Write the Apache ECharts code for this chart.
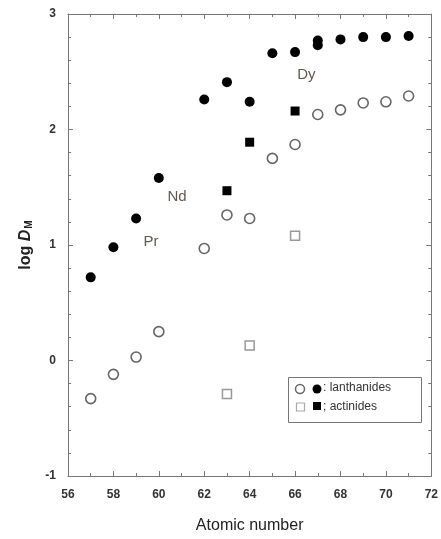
<!DOCTYPE html>
<html><head><meta charset="utf-8">
<script src="https://cdn.jsdelivr.net/npm/echarts@6/dist/echarts.min.js"></script>
<style>html,body{margin:0;padding:0;background:#fff}#c{width:441px;height:539px}</style>
</head><body><div id="c"></div>
<script>
// Filled circles: lanthanides (filled)
const lanFilledX = [57,58,59,60,62,63,64,65,66,67,67,68,69,70,71];
const lanFilledY = [0.72,0.98,1.23,1.58,2.26,2.41,2.24,2.66,2.67,2.73,2.77,2.78,2.80,2.80,2.81];
// Open circles: lanthanides (open)
const lanOpenX = [57,58,59,60,62,63,64,65,66,67,68,69,70,71];
const lanOpenY = [-0.33,-0.12,0.03,0.25,0.97,1.26,1.23,1.75,1.87,2.13,2.17,2.23,2.24,2.29];
// Filled squares: actinides (filled)
const actFilledX = [63,64,66];
const actFilledY = [1.47,1.89,2.16];
// Open squares: actinides (open)
const actOpenX = [63,64,66];
const actOpenY = [-0.29,0.13,1.08];
// Annotations
const noteText = ['Dy','Nd','Pr'];
const noteX = [66.5,60.8,59.65];
const noteY = [2.47,1.42,1.03];
// Axis settings
const xTicks = [56,58,60,62,64,66,68,70,72];
const yTicks = [-1,0,1,2,3];

const pair = (xs, ys) => xs.map((x,i)=>[x, ys[i]]);
const FONT = 'Liberation Sans, Arial, sans-serif';
const axisCol = '#777';

const chart = echarts.init(document.getElementById('c'));
const baseX = {
  type:'value', min:xTicks[0], max:xTicks[xTicks.length-1], interval:2,
  axisLine:{show:true,onZero:false,lineStyle:{color:axisCol,width:1}},
  axisTick:{show:true,inside:true,length:5,lineStyle:{color:axisCol}},
  minorTick:{show:true,splitNumber:2,length:3,lineStyle:{color:axisCol}},
  splitLine:{show:false}
};
const baseY = {
  type:'value', min:yTicks[0], max:yTicks[yTicks.length-1], interval:1,
  axisLine:{show:true,onZero:false,lineStyle:{color:axisCol,width:1}},
  axisTick:{show:true,inside:true,length:5,lineStyle:{color:axisCol}},
  minorTick:{show:true,splitNumber:5,length:3,lineStyle:{color:axisCol}},
  splitLine:{show:false}
};
chart.setOption({
  animation:false,
  grid:{left:68,right:5,top:14,bottom:62,containLabel:false},
  xAxis:[
    Object.assign({}, baseX, {position:'bottom',
      axisLabel:{show:true,margin:13,color:'#333',fontSize:12,fontWeight:'bold',fontFamily:FONT,
        formatter:v=>String(v)},
      name:'Atomic number', nameLocation:'middle', nameGap:42,
      nameTextStyle:{fontSize:16,color:'#222',fontFamily:FONT}}),
    Object.assign({}, baseX, {position:'top', axisLabel:{show:false}})
  ],
  yAxis:[
    Object.assign({}, baseY, {position:'left',
      axisLabel:{show:true,margin:12,color:'#333',fontSize:12,fontWeight:'bold',fontFamily:FONT},
      name:'{a|log }{d|D}{s|M}', nameLocation:'middle', nameGap:33, nameRotate:90,
      nameTextStyle:{color:'#222',fontFamily:FONT,fontSize:16,fontWeight:'bold',
        rich:{a:{fontSize:16,fontWeight:'bold',fontFamily:FONT,color:'#222'},
              d:{fontSize:16,fontWeight:'bold',fontStyle:'italic',fontFamily:FONT,color:'#222'},
              s:{fontSize:10,fontWeight:'bold',fontFamily:FONT,color:'#222',padding:[8,0,0,1]}}}}),
    Object.assign({}, baseY, {position:'right', axisLabel:{show:false}})
  ],
  series:[
    {type:'scatter', data:pair(lanOpenX,lanOpenY), symbol:'circle', symbolSize:10,
      itemStyle:{color:'#fff',borderColor:'#666',borderWidth:1.6,opacity:1}},
    {type:'scatter', data:pair(actOpenX,actOpenY), symbol:'rect', symbolSize:9,
      itemStyle:{color:'#fff',borderColor:'#999',borderWidth:1.5,opacity:1}},
    {type:'scatter', data:pair(lanFilledX,lanFilledY), symbol:'circle', symbolSize:10,
      itemStyle:{color:'#000',opacity:1}},
    {type:'scatter', data:pair(actFilledX,actFilledY), symbol:'rect', symbolSize:9,
      itemStyle:{color:'#000',opacity:1}},
    {type:'scatter', symbolSize:0,
      data:noteText.map((t,i)=>({name:t,value:[noteX[i],noteY[i]]})),
      label:{show:true,position:'inside',formatter:p=>p.name,fontSize:15,color:'#3a2e24',fontFamily:FONT},
      silent:true}
  ],
  graphic:[
    {type:'rect', left:288, top:377, shape:{width:133,height:45},
      style:{fill:'#fff',stroke:'#777',lineWidth:1}, z:10},
    {type:'circle', shape:{cx:300,cy:389,r:4.5}, style:{fill:'#fff',stroke:'#666',lineWidth:1.5}, z:11},
    {type:'circle', shape:{cx:317,cy:389,r:4.5}, style:{fill:'#000'}, z:11},
    {type:'text', left:323, top:382, style:{text:': lanthanides',fontSize:12,fontFamily:FONT,fill:'#333'}, z:11},
    {type:'rect', shape:{x:296.5,y:403,width:8,height:8}, style:{fill:'#fff',stroke:'#aaa',lineWidth:1.2}, z:11},
    {type:'rect', shape:{x:313,y:402,width:8,height:8}, style:{fill:'#000'}, z:11},
    {type:'text', left:323, top:401, style:{text:'; actinides',fontSize:12,fontFamily:FONT,fill:'#333'}, z:11}
  ]
});
</script></body></html>
